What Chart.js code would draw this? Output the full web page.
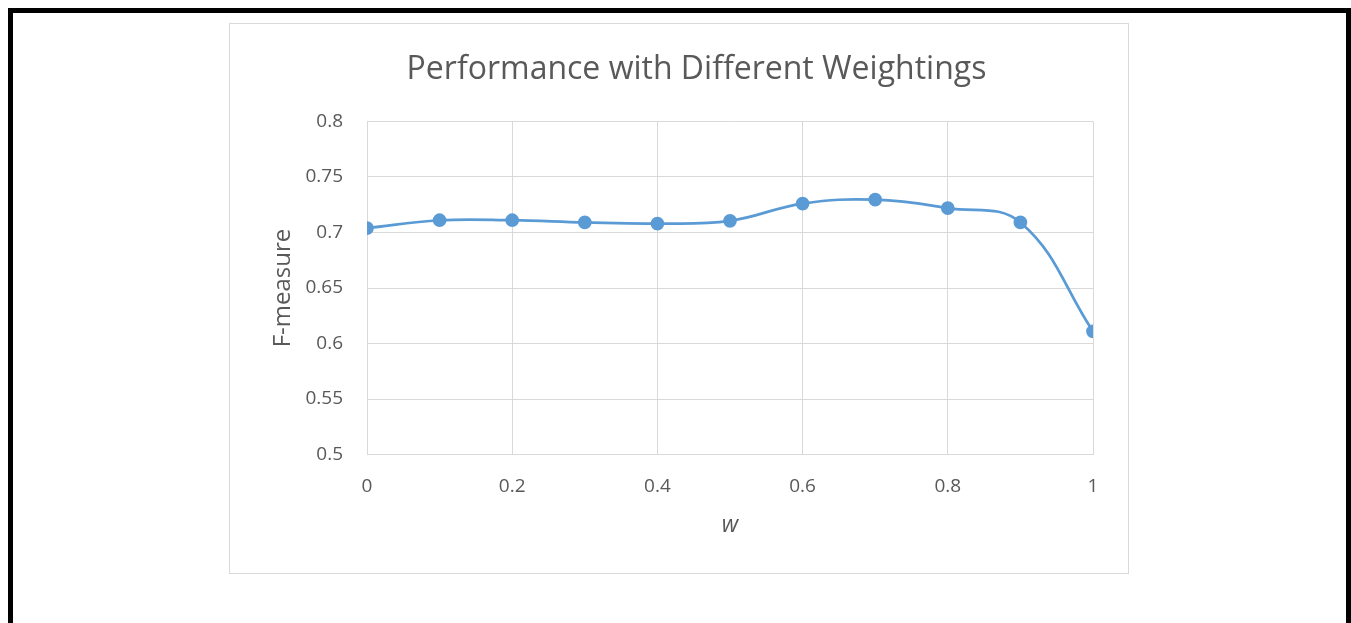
<!DOCTYPE html>
<html>
<head>
<meta charset="utf-8">
<script src="https://cdn.jsdelivr.net/npm/chart.js@4/dist/chart.umd.min.js"></script>
<style>
    body { margin: 0; background: #fff; overflow: hidden; width: 1351px; height: 623px; }
    .frame {
        position: absolute; left: 8px; top: 8px; width: 1333px; height: 640px;
        border: 5px solid #000; border-bottom: none;
    }
    .box {
        position: absolute; left: 229px; top: 23px; width: 900px; height: 551px;
        border: 1px solid #d9d9d9; box-sizing: border-box; background: #fff;
    }
</style>
</head>
<body>
<div class="frame"></div>
<div class="box"><canvas id="weightChart" width="898" height="549"></canvas></div>
<script>
// weighting w on the x axis
const weights = [0, 0.1, 0.2, 0.3, 0.4, 0.5, 0.6, 0.7, 0.8, 0.9, 1];
// F-measure
const fMeasure = [0.704, 0.711, 0.711, 0.709, 0.708, 0.7105, 0.726, 0.7295, 0.722, 0.709, 0.611];

const TEXT_GREY = "#595959";
const GRID_GREY = "#d9d9d9";
const LINE_BLUE = "#5b9bd5";
const FONT = "'Open Sans', 'DejaVu Sans', sans-serif";

const tidy = (v) => String(Number(v.toFixed(2)));

const ctx = document.getElementById("weightChart").getContext("2d");

new Chart(ctx, {
    type: "line",
    data: {
        datasets: [
            {
                label: "F-measure",
                data: weights.map((w, i) => ({ x: w, y: fMeasure[i] })),
                borderColor: LINE_BLUE,
                backgroundColor: LINE_BLUE,
                borderWidth: 2.75,
                pointRadius: 5.5,
                pointHoverRadius: 5.5,
                tension: 0.4,
                fill: false
            }
        ]
    },
    options: {
        responsive: false,
        animation: false,
        layout: {
            padding: { left: 70, right: 35, top: 0, bottom: 34 }
        },
        plugins: {
            legend: { display: false },
            tooltip: { enabled: false },
            title: {
                display: true,
                text: "Performance with Different Weightings",
                color: TEXT_GREY,
                font: { family: FONT, size: 32, weight: "normal" },
                padding: { top: 27, bottom: 32 }
            }
        },
        scales: {
            x: {
                type: "linear",
                min: 0,
                max: 1,
                ticks: {
                    stepSize: 0.2,
                    color: TEXT_GREY,
                    padding: 21,
                    font: { family: FONT, size: 19 },
                    callback: (v) => tidy(v)
                },
                grid: { color: GRID_GREY, drawTicks: false },
                border: { color: GRID_GREY },
                title: {
                    display: true,
                    text: "w",
                    color: TEXT_GREY,
                    font: { family: FONT, size: 23, style: "italic" },
                    padding: { top: -8, bottom: 0 }
                }
            },
            y: {
                min: 0.5,
                max: 0.8,
                ticks: {
                    stepSize: 0.05,
                    color: TEXT_GREY,
                    padding: 24,
                    font: { family: FONT, size: 19 },
                    callback: (v) => tidy(v)
                },
                grid: { color: GRID_GREY, drawTicks: false },
                border: { color: GRID_GREY },
                title: {
                    display: true,
                    text: "F-measure",
                    color: TEXT_GREY,
                    font: { family: FONT, size: 24 },
                    padding: { top: -31, bottom: 0 }
                },
                afterFit: (scale) => { scale.width = 67; }
            }
        }
    }
});
</script>
</body>
</html>
